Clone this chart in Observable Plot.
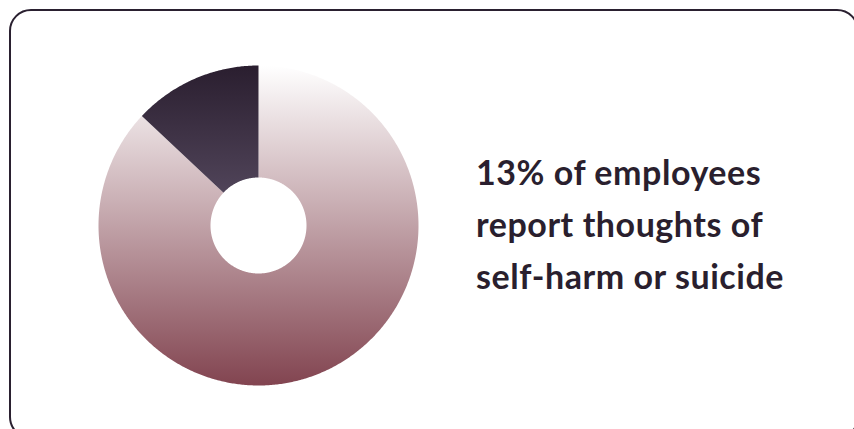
<!DOCTYPE html>
<html>
<head>
<meta charset="utf-8">
<script src="https://cdn.jsdelivr.net/npm/d3@7"></script>
<script src="https://cdn.jsdelivr.net/npm/@observablehq/plot@0.6"></script>
<style>
  html, body { margin: 0; padding: 0; background: #fff; width: 854px; height: 429px; overflow: hidden; }
  #wrap { position: relative; width: 854px; height: 429px; }
  #box { position: absolute; left: 9px; top: 9px; border: 2px solid #2a2030; border-radius: 22px; box-sizing: border-box; width: 850px; height: 430px; }
  #chart { position: absolute; left: 0; top: 0; }
  #label { position: absolute; left: 476px; top: 146px; font-family: Lato, sans-serif; font-weight: 700; font-size: 34px; letter-spacing: 0.55px; line-height: 52px; color: #2a1f2e; white-space: nowrap; }
</style>
</head>
<body>
<div id="wrap">
  <div id="box"></div>
  <div id="chart"></div>
  <div id="label"></div>
</div>
<script>
// Data
const categories = ["Report thoughts of self-harm or suicide", "Do not report"];
const values = [13, 87];
const labelLines = ["13% of employees", "report thoughts of", "self-harm or suicide"];

// Styles
const gradients = {
  "Report thoughts of self-harm or suicide": ["#2a1e2f", "#504459"],
  "Do not report": ["#ffffff", "#824450"]
};
const outerR = 1, innerR = 0.3;

// Build slice polygons (pink slice clockwise from top, dark slice last)
const order = [1, 0];
const total = d3.sum(values);
let acc = 0;
const rows = [];
for (const i of order) {
  const a0 = acc / total * 2 * Math.PI;
  acc += values[i];
  const a1 = acc / total * 2 * Math.PI;
  const n = Math.max(2, Math.ceil((a1 - a0) / (Math.PI / 360)));
  const pts = [];
  for (let k = 0; k <= n; k++) { const a = a0 + (a1 - a0) * k / n; pts.push([outerR * Math.sin(a), outerR * Math.cos(a)]); }
  for (let k = n; k >= 0; k--) { const a = a0 + (a1 - a0) * k / n; pts.push([innerR * Math.sin(a), innerR * Math.cos(a)]); }
  for (const [x, y] of pts) rows.push({category: categories[i], x, y});
}

const defs = () => {
  const d = d3.create("svg:defs");
  categories.forEach((c, i) => {
    const g = d.append("linearGradient").attr("id", "grad" + i).attr("x1", 0).attr("y1", 0).attr("x2", 0).attr("y2", 1);
    g.append("stop").attr("offset", "0%").attr("stop-color", gradients[c][0]);
    g.append("stop").attr("offset", "100%").attr("stop-color", gradients[c][1]);
  });
  return d.node();
};

const chart = Plot.plot({
  width: 854,
  height: 429,
  margin: 0,
  x: {domain: [-1, 1], range: [98, 418], axis: null},
  y: {domain: [-1, 1], range: [385, 65], axis: null},
  marks: [
    defs,
    Plot.line(rows, {
      x: "x", y: "y", z: "category",
      fill: d => "url(#grad" + categories.indexOf(d.category) + ")",
      stroke: "none",
      curve: "linear-closed"
    })
  ]
});
chart.style.background = "transparent";
document.getElementById("chart").appendChild(chart);
document.getElementById("label").innerHTML = labelLines.map(s => `<div>${s}</div>`).join("");
</script>
</body>
</html>
